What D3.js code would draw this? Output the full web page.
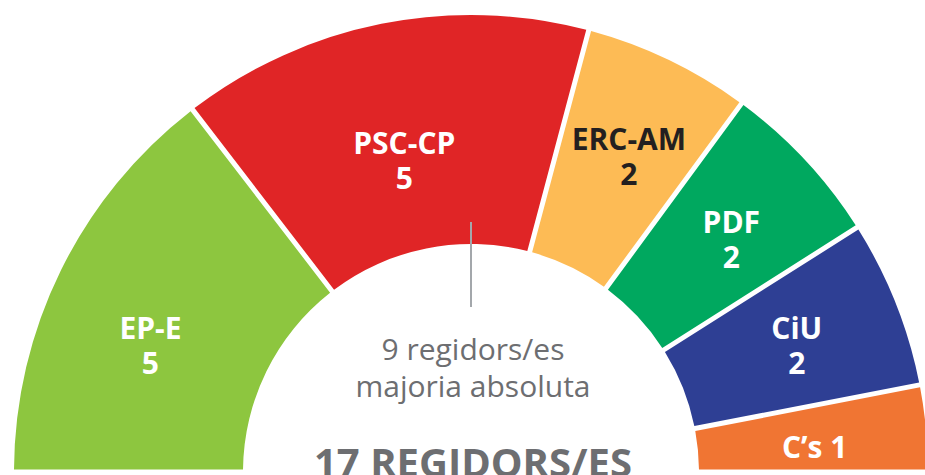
<!DOCTYPE html>
<html lang="ca">

<head>
    <meta charset="UTF-8">
    <title>17 regidors/es</title>
    <script src="https://d3js.org/d3.v7.min.js"></script>
    <style>
        body {
            margin: 0;
            padding: 0;
            background: #ffffff;
            font-family: "Open Sans", Arial, sans-serif;
        }

        .chart {
            display: block;
        }
    </style>
</head>

<body>
    <svg class="chart"></svg>

    <script>
        // dades
        const parties = ["EP-E", "PSC-CP", "ERC-AM", "PDF", "CiU", "C’s"];
        const seats = [5, 5, 2, 2, 2, 1];
        const partyColors = ["#8dc63f", "#e02526", "#fdbb55", "#00a85f", "#2e3f94", "#f07533"];
        const labelColors = ["#ffffff", "#ffffff", "#231f20", "#ffffff", "#ffffff", "#ffffff"];
        const totalSeats = 17;
        const majority = 9;
        const centerLines = ["9 regidors/es", "majoria absoluta"];
        const totalLabel = "17 REGIDORS/ES";

        const data = parties.map((p, i) => ({ party: p, seats: seats[i], color: partyColors[i], textColor: labelColors[i] }));

        const width = 925;
        const height = 475;
        const cx = 471;
        const cy = 472;
        const innerR = 228;
        const outerR = 457;

        // petits ajustos de posició de les etiquetes (graus, px de radi)
        const labelNudge = [[-6.3, 341], [-1.2, 308], [1.8, 343], [2.6, 342], [2.0, 346], [3.1, 344]];

        const svg = d3.select(".chart")
            .attr("width", width)
            .attr("height", height);

        const g = svg.append("g")
            .attr("transform", `translate(${cx},${cy})`);

        const pie = d3.pie()
            .value(d => d.seats)
            .sort(null)
            .startAngle(-Math.PI / 2)
            .endAngle(Math.PI / 2)
            .padAngle(5 / outerR);

        const arc = d3.arc()
            .innerRadius(innerR)
            .outerRadius(outerR)
            .padRadius(outerR);

        const arcs = pie(data);

        g.selectAll("path.slice")
            .data(arcs)
            .enter()
            .append("path")
            .attr("class", "slice")
            .attr("d", arc)
            .attr("fill", d => d.data.color);

        // línia de majoria absoluta
        const seatAngle = d3.scaleLinear()
            .domain([0, totalSeats])
            .range([-Math.PI / 2, Math.PI / 2]);
        const majAngle = seatAngle(majority - 0.5);
        g.append("line")
            .attr("x1", Math.sin(majAngle) * 165)
            .attr("y1", -Math.cos(majAngle) * 165)
            .attr("x2", Math.sin(majAngle) * 250)
            .attr("y2", -Math.cos(majAngle) * 250)
            .attr("stroke", "#a3a7ab")
            .attr("stroke-width", 2);

        // etiquetes dels partits
        const labels = g.selectAll("text.label")
            .data(arcs)
            .enter()
            .append("text")
            .attr("class", "label")
            .attr("text-anchor", "middle")
            .attr("font-size", 30)
            .attr("font-weight", 700)
            .attr("fill", d => d.data.textColor)
            .attr("transform", (d, i) => {
                const a = (d.startAngle + d.endAngle) / 2 + labelNudge[i][0] * Math.PI / 180;
                const r = labelNudge[i][1];
                return `translate(${Math.sin(a) * r},${-Math.cos(a) * r})`;
            });

        labels.each(function (d) {
            const t = d3.select(this);
            if (d.data.seats === 1) {
                t.append("tspan")
                    .attr("x", 0)
                    .attr("y", 0)
                    .text(d.data.party + " " + d.data.seats);
            } else {
                t.append("tspan")
                    .attr("x", 0)
                    .attr("y", -17)
                    .text(d.data.party);
                t.append("tspan")
                    .attr("x", 0)
                    .attr("y", 18)
                    .text(d.data.seats);
            }
        });

        // text central
        g.selectAll("text.center")
            .data(centerLines)
            .enter()
            .append("text")
            .attr("class", "center")
            .attr("x", 2)
            .attr("y", (d, i) => -112 + i * 37)
            .attr("text-anchor", "middle")
            .attr("font-size", 30)
            .attr("fill", "#6d6e71")
            .text(d => d);

        g.append("text")
            .attr("x", 2)
            .attr("y", 5)
            .attr("text-anchor", "middle")
            .attr("font-size", 40)
            .attr("font-weight", 700)
            .attr("fill", "#6d6e71")
            .text(totalLabel);
    </script>
</body>

</html>
